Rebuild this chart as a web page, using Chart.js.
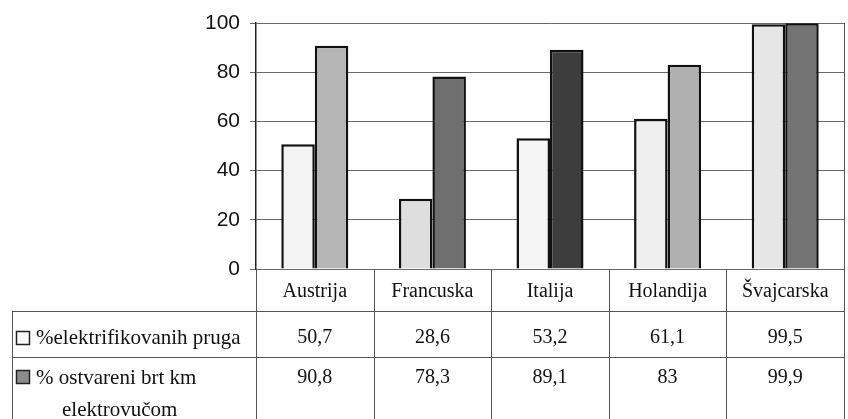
<!DOCTYPE html>
<html>
<head>
<meta charset="utf-8">
<script src="https://cdn.jsdelivr.net/npm/chart.js@4/dist/chart.umd.min.js"></script>
<style>
  html, body { margin: 0; padding: 0; background: #fff; }
  #wrap { width: 848px; height: 419px; }
</style>
</head>
<body>
<div id="wrap"><canvas id="c" width="848" height="419"></canvas></div>
<script>
// Countries and the two percentage series
const countries = ['Austrija', 'Francuska', 'Italija', 'Holandija', 'Švajcarska'];
const electrifiedLines = [50.7, 28.6, 53.2, 61.1, 99.5];
const electricTractionKm = [90.8, 78.3, 89.1, 83, 99.9];
const seriesNames = ['%elektrifikovanih pruga', '% ostvareni brt km', 'elektrovučom'];
const yTicks = [0, 20, 40, 60, 80, 100];

// Shades of each bar
const lightShades = ['#f3f3f3', '#dedede', '#f5f5f5', '#efefef', '#e6e6e6'];
const darkShades = ['#b5b5b5', '#6f6f6f', '#3d3d3d', '#b0b0b0', '#737373'];

const SERIF = '"Liberation Serif", "Times New Roman", serif';
const fmt = v => String(v).replace('.', ',');

// Data table drawn beneath the plot, aligned with the category scale
const tablePlugin = {
  id: 'dataTable',
  afterDraw(chart) {
    const ctx = chart.ctx;
    const a = chart.chartArea;
    const x = chart.scales.x;
    const H = chart.height;
    const n = countries.length;
    const step = (a.right - a.left) / n;
    const tableLeft = 12;
    const row1Top = a.bottom + 42;
    const row2Top = row1Top + 46;

    ctx.save();
    ctx.strokeStyle = '#555';
    ctx.lineWidth = 1;
    // right frame of plot and table
    ctx.beginPath();
    ctx.moveTo(a.right + 0.5, a.top);
    ctx.lineTo(a.right + 0.5, H);
    // column separators
    for (let i = 0; i < n; i++) {
      const bx = Math.round(a.left + i * step) + 0.5;
      ctx.moveTo(bx, a.bottom);
      ctx.lineTo(bx, H);
    }
    // row separators
    ctx.moveTo(tableLeft, row1Top + 0.5);
    ctx.lineTo(a.right, row1Top + 0.5);
    ctx.moveTo(tableLeft, row2Top + 0.5);
    ctx.lineTo(a.right, row2Top + 0.5);
    // left edge of the table
    ctx.moveTo(tableLeft + 0.5, row1Top);
    ctx.lineTo(tableLeft + 0.5, H);
    ctx.stroke();

    ctx.fillStyle = '#111';
    ctx.font = '20px ' + SERIF;
    ctx.textAlign = 'center';
    ctx.textBaseline = 'middle';
    countries.forEach((c, i) => {
      const cx = x.getPixelForValue(i);
      ctx.fillText(c, cx, a.bottom + 23);
      ctx.fillText(fmt(electrifiedLines[i]), cx, row1Top + 27);
      ctx.fillText(fmt(electricTractionKm[i]), cx, row2Top + 21);
    });

    // legend keys
    ctx.lineWidth = 1.5;
    ctx.strokeStyle = '#222';
    ctx.fillStyle = '#fafafa';
    ctx.fillRect(16, row1Top + 20, 13, 13);
    ctx.strokeRect(16.5, row1Top + 20.5, 13, 13);
    ctx.fillStyle = '#8c8c8c';
    ctx.fillRect(16, row2Top + 13, 13, 13);
    ctx.strokeRect(16.5, row2Top + 13.5, 13, 13);

    ctx.fillStyle = '#111';
    ctx.textAlign = 'left';
    ctx.font = '21px ' + SERIF;
    ctx.fillText(seriesNames[0], 36, row1Top + 27);
    ctx.fillText(seriesNames[1], 36, row2Top + 21);
    ctx.fillText(seriesNames[2], 62, row2Top + 53);
    ctx.restore();
  }
};

new Chart(document.getElementById('c'), {
  type: 'bar',
  data: {
    labels: countries,
    datasets: [
      {
        label: seriesNames[0],
        data: electrifiedLines,
        backgroundColor: lightShades,
        borderColor: '#111',
        borderWidth: 2.5,
        categoryPercentage: 0.57,
        barPercentage: 1.0
      },
      {
        label: seriesNames[1] + ' ' + seriesNames[2],
        data: electricTractionKm,
        backgroundColor: darkShades,
        borderColor: '#111',
        borderWidth: 2.5,
        categoryPercentage: 0.57,
        barPercentage: 1.0
      }
    ]
  },
  options: {
    responsive: false,
    animation: false,
    layout: { padding: { top: 23, right: 4, bottom: 150, left: 0 } },
    plugins: { legend: { display: false }, tooltip: { enabled: false } },
    scales: {
      x: { display: false },
      y: {
        min: 0,
        max: 100,
        afterBuildTicks: s => { s.ticks = yTicks.map(v => ({ value: v })); },
        afterFit: s => { s.width = 256; },
        ticks: {
          color: '#111',
          padding: 10,
          font: { family: '"Liberation Sans", Arial, sans-serif', size: 21 }
        },
        grid: { color: '#6a6a6a', lineWidth: 1, tickLength: 6, drawTicks: true },
        border: { display: true, color: '#222', width: 1.5 }
      }
    }
  },
  plugins: [tablePlugin]
});
</script>
</body>
</html>
